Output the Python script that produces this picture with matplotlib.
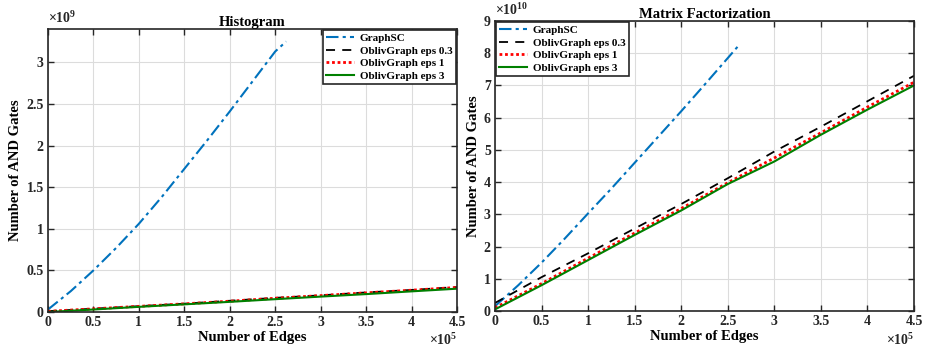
import matplotlib
matplotlib.use("Agg")
import matplotlib.pyplot as plt
from matplotlib.ticker import FuncFormatter

plt.rcParams['font.family'] = ['Liberation Serif', 'DejaVu Serif']
plt.rcParams['font.weight'] = 'bold'
plt.rcParams['mathtext.fontset'] = 'custom'
plt.rcParams['mathtext.rm'] = 'Liberation Serif'

# edges
x_gsc = [0, 0.25e5, 0.5e5, 0.75e5, 1e5, 1.25e5, 1.5e5, 1.75e5, 2e5, 2.25e5, 2.5e5, 2.62e5]
x_obl = [0, 0.5e5, 1e5, 1.5e5, 2e5, 2.5e5, 3e5, 3.5e5, 4e5, 4.5e5]

# histogram (gates)
hist_gsc = [0.03e9, 0.25e9, 0.5e9, 0.77e9, 1.06e9, 1.38e9, 1.72e9, 2.06e9, 2.41e9, 2.77e9, 3.13e9, 3.25e9]
hist_e03 = [0.01e9, 0.04e9, 0.07e9, 0.10e9, 0.135e9, 0.17e9, 0.20e9, 0.235e9, 0.265e9, 0.30e9]
hist_e1 = [0.008e9, 0.038e9, 0.068e9, 0.098e9, 0.13e9, 0.165e9, 0.197e9, 0.23e9, 0.262e9, 0.295e9]
hist_e3 = [0.0, 0.03e9, 0.062e9, 0.092e9, 0.122e9, 0.154e9, 0.185e9, 0.215e9, 0.248e9, 0.28e9]

# matrix factorization (gates)
mf_gsc = [0.15e10, 0.8e10, 1.5e10, 2.25e10, 3.03e10, 3.8e10, 4.6e10, 5.4e10, 6.2e10, 7.02e10, 7.85e10, 8.25e10]
mf_e03 = [0.25e10, 1.05e10, 1.79e10, 2.56e10, 3.32e10, 4.12e10, 4.95e10, 5.72e10, 6.51e10, 7.3e10]
mf_e1 = [0.1e10, 0.85e10, 1.64e10, 2.42e10, 3.18e10, 3.98e10, 4.75e10, 5.53e10, 6.33e10, 7.1e10]
mf_e3 = [0.05e10, 0.8e10, 1.58e10, 2.36e10, 3.12e10, 3.94e10, 4.64e10, 5.47e10, 6.25e10, 7.0e10]

labels = ['GraphSC', 'OblivGraph eps 0.3', 'OblivGraph eps 1', 'OblivGraph eps 3']
blue = (0, 0.447, 0.741)
green = (0, 0.5, 0)

fig = plt.figure(figsize=(9.25, 3.54), dpi=100)
ax1 = fig.add_axes([48/925, 1-312/354, 409/925, 283/354])
ax2 = fig.add_axes([495/925, 1-311/354, 419/925, 290/354])


def fmt(scale):
    def f(v, pos):
        return '%g' % (v / scale)
    return FuncFormatter(f)


def draw(ax, gsc, e03, e1, e3, title, ymax, yexp, ystep, loc):
    ax.plot(x_gsc, gsc, color=blue, ls=(0, (6, 2, 1.5, 2)), lw=1.5, label=labels[0])
    ax.plot(x_obl, e03, color='black', ls=(0, (5, 4)), lw=1.3, label=labels[1])
    ax.plot(x_obl, e1, color='red', ls=(0, (1, 1)), lw=2, label=labels[2])
    ax.plot(x_obl, e3, color=green, ls='-', lw=1.5, label=labels[3])
    ax.set_xlim(0, 4.5e5)
    ax.set_ylim(0, ymax)
    ax.set_xticks([i * 0.5e5 for i in range(10)])
    ax.set_yticks([i * ystep for i in range(int(ymax / ystep + 1e-6) + 1)])
    ax.xaxis.set_major_formatter(fmt(1e5))
    ax.yaxis.set_major_formatter(fmt(10 ** yexp))
    ax.grid(True, color='#dcdcdc', lw=0.8)
    ax.set_axisbelow(True)
    ax.tick_params(direction='in', top=True, right=True, labelsize=10, length=4, width=1,
                   colors='#262626', pad=3)
    for sp in ax.spines.values():
        sp.set_linewidth(1.2)
        sp.set_color('#262626')
    ax.set_title(title, fontsize=10.5, fontweight='bold', pad=2)
    ax.set_xlabel('Number of Edges', fontsize=10.5, fontweight='bold', labelpad=1)
    ax.set_ylabel('Number of AND Gates', fontsize=10.5, fontweight='bold', labelpad=3)
    ax.text(0, 1.01, r'$\times 10^{%d}$' % yexp, transform=ax.transAxes, fontsize=10,
            va='bottom', ha='left', color='#262626')
    ax.text(1.0, -0.07, r'$\times 10^{5}$', transform=ax.transAxes, fontsize=10,
            va='top', ha='right', color='#262626')
    leg = ax.legend(loc=loc, fontsize=8, frameon=True, fancybox=False, handlelength=2.5,
                    borderpad=0.3, labelspacing=0.25, handletextpad=0.5, borderaxespad=0.1)
    leg.get_frame().set_edgecolor('#262626')
    leg.get_frame().set_linewidth(1.2)
    leg.get_frame().set_alpha(1)


draw(ax1, hist_gsc, hist_e03, hist_e1, hist_e3, 'Histogram', 3.4e9, 9, 0.5e9, 'upper right')
draw(ax2, mf_gsc, mf_e03, mf_e1, mf_e3, 'Matrix Factorization', 9e10, 10, 1e10, 'upper left')

fig.savefig('out.png', dpi=100)
